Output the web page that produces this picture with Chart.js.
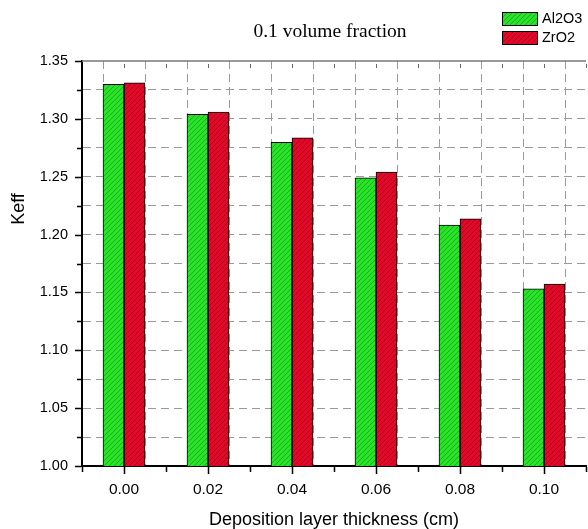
<!DOCTYPE html>
<html>
<head>
<meta charset="utf-8">
<script src="https://cdn.jsdelivr.net/npm/chart.js@4/dist/chart.umd.min.js"></script>
<style>
  html, body { margin: 0; padding: 0; background: #fff; overflow: hidden; }
  #wrap { width: 600px; height: 529px; }
</style>
</head>
<body>
<div id="wrap"><canvas id="grafica" width="600" height="529"></canvas></div>
<script>
const espesores = [0.00, 0.02, 0.04, 0.06, 0.08, 0.10];
const keffAl2O3 = [1.3299, 1.3039, 1.2797, 1.2491, 1.2083, 1.1532];
const keffZrO2 = [1.3312, 1.3059, 1.2837, 1.2541, 1.2137, 1.1573];
const series = ['Al2O3', 'ZrO2'];
const titulo = '0.1 volume fraction';
const tituloY = 'Keff';

const fuente = '"Liberation Sans", Arial, sans-serif';

function rayado(fondo, linea) {
    const c = document.createElement('canvas');
    c.width = 5; c.height = 5;
    const g = c.getContext('2d');
    g.fillStyle = fondo;
    g.fillRect(0, 0, 5, 5);
    g.strokeStyle = linea;
    g.lineWidth = 0.9;
    g.beginPath();
    g.moveTo(0, 5); g.lineTo(5, 0);
    g.moveTo(-2.5, 2.5); g.lineTo(2.5, -2.5);
    g.moveTo(2.5, 7.5); g.lineTo(7.5, 2.5);
    g.stroke();
    return g.createPattern(c, 'repeat');
}

const ctx = document.getElementById('grafica').getContext('2d');
const verde = rayado('rgb(40,228,40)', 'rgb(30,165,30)');
const rojo = rayado('rgb(226,8,40)', 'rgb(175,0,30)');

const toPts = arr => arr.map((v, i) => ({x: espesores[i], y: v}));

const extras = {
    id: 'extras',
    afterDraw(chart) {
        const c = chart.ctx;
        const a = chart.chartArea;
        const xs = chart.scales.x, ys = chart.scales.y;
        c.save();
        // marco superior
        c.strokeStyle = '#777';
        c.lineWidth = 1.5;
        c.beginPath();
        c.moveTo(a.left, a.top); c.lineTo(a.right, a.top);
        c.stroke();
        // ticks
        c.strokeStyle = '#000';
        c.lineWidth = 1.5;
        c.beginPath();
        for (let k = 0; k <= 14; k++) {
            const v = 1 + k * 0.025;
            const y = Math.round(ys.getPixelForValue(v)) + 0.5;
            const len = k % 2 === 0 ? 6 : 4;
            c.moveTo(a.left - 1, y); c.lineTo(a.left - 1 - len, y);
        }
        for (let k = -1; k <= 11; k++) {
            const v = k * 0.01;
            const x = Math.round(xs.getPixelForValue(v)) + 0.5;
            const len = (k % 2 === 0) ? 7 : 5;
            c.moveTo(x, a.bottom + 1); c.lineTo(x, a.bottom + 1 + len);
        }
        c.stroke();
        c.strokeStyle = '#666';
        c.lineWidth = 1;
        c.beginPath();
        for (let k = 0; k <= 11; k++) {
            const x = Math.round(xs.getPixelForValue(k * 0.01)) + 0.5;
            c.moveTo(x, a.top + 3); c.lineTo(x, a.top + 7);
        }
        c.stroke();
        // titulo
        c.fillStyle = '#000';
        c.font = '19.5px "Liberation Serif", "Times New Roman", serif';
        c.textAlign = 'center';
        c.textBaseline = 'middle';
        c.fillText(titulo, 330, 32);
        // titulo eje y
        c.save();
        c.translate(19, 209);
        c.rotate(-Math.PI / 2);
        c.font = '18px ' + fuente;
        c.fillText(tituloY, 0, 0);
        c.restore();
        // leyenda
        const fills = [verde, rojo];
        c.font = '14.5px ' + fuente;
        c.textAlign = 'left';
        series.forEach((s, i) => {
            const y = 12 + i * 19;
            c.fillStyle = fills[i];
            c.fillRect(502, y, 35, 13);
            c.strokeStyle = '#000';
            c.lineWidth = 1;
            c.strokeRect(502.5, y + 0.5, 35, 13);
            c.fillStyle = '#000';
            c.fillText(s, 542, y + 7);
        });
        c.restore();
    }
};

const config = {
    type: 'bar',
    data: {
        datasets: [{
            label: series[0],
            data: toPts(keffAl2O3),
            backgroundColor: verde,
            borderColor: '#000',
            borderWidth: 1,
            barPercentage: 1,
            categoryPercentage: 1
        }, {
            label: series[1],
            data: toPts(keffZrO2),
            backgroundColor: rojo,
            borderColor: '#000',
            borderWidth: 1,
            barPercentage: 1,
            categoryPercentage: 1
        }]
    },
    plugins: [extras],
    options: {
        responsive: false,
        animation: false,
        layout: { padding: { top: 61, right: 7.5, left: 0, bottom: 0 } },
        plugins: {
            legend: { display: false },
            title: { display: false },
            tooltip: { enabled: false }
        },
        scales: {
            x: {
                type: 'linear',
                min: -0.01,
                max: 0.11,
                offset: false,
                afterFit(s) { s.height = 63; },
                ticks: {
                    stepSize: 0.01,
                    autoSkip: false,
                    maxRotation: 0,
                    padding: 14,
                    color: '#000',
                    font: { family: fuente, size: 15.5 },
                    callback(v) {
                        const n = Math.round(v * 100);
                        return (n >= 0 && n <= 10 && n % 2 === 0) ? (n / 100).toFixed(2) : '';
                    }
                },
                grid: {
                    drawTicks: false,
                    lineWidth: 1,
                    color(c) {
                        if (!c.tick) return '#9a9a9a';
                        const n = Math.round(c.tick.value * 100);
                        return (n < 0) ? 'rgba(0,0,0,0)' : '#9a9a9a';
                    }
                },
                border: { display: true, color: '#000', width: 2, dash: [8, 5] },
                title: {
                    display: true,
                    text: 'Deposition layer thickness (cm)',
                    color: '#000',
                    font: { family: fuente, size: 18, lineHeight: 1 },
                    padding: { top: 0, bottom: 0 }
                }
            },
            y: {
                min: 1.0,
                max: 1.35,
                afterFit(s) { s.width = 82; },
                ticks: {
                    stepSize: 0.025,
                    padding: 14,
                    color: '#000',
                    font: { family: fuente, size: 14.5 },
                    callback(v) {
                        const n = Math.round(v * 1000);
                        return n % 50 === 0 ? (n / 1000).toFixed(2) : '';
                    }
                },
                grid: {
                    drawTicks: false,
                    lineWidth: 1,
                    color(c) {
                        if (!c.tick) return '#9a9a9a';
                        const n = Math.round(c.tick.value * 1000);
                        return (n <= 1000 || n >= 1350) ? 'rgba(0,0,0,0)' : '#9a9a9a';
                    }
                },
                border: { display: true, color: '#000', width: 2, dash: [8, 5] },
                title: { display: false }
            }
        }
    }
};

const graficaKeff = new Chart(ctx, config);
</script>
</body>
</html>
